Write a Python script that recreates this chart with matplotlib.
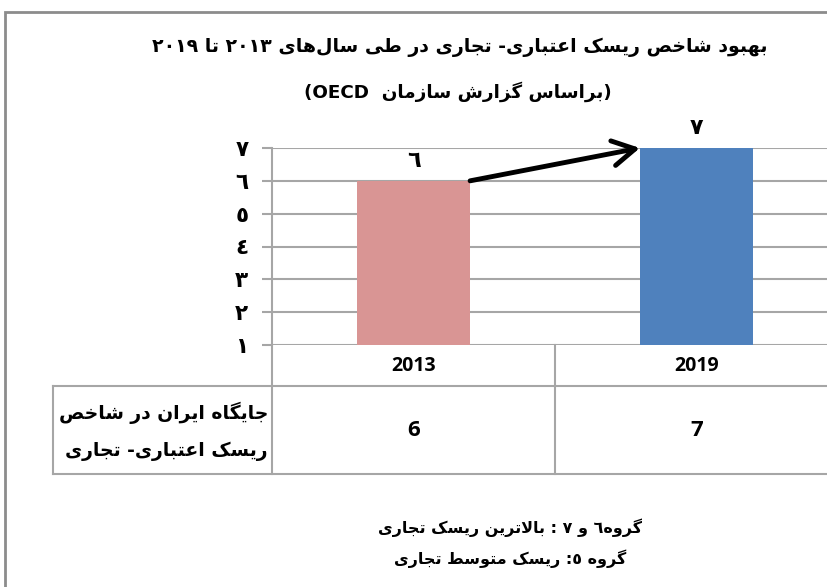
import re
import matplotlib
matplotlib.use("Agg")
import matplotlib.pyplot as plt
from matplotlib.lines import Line2D
from matplotlib.patches import Rectangle
from matplotlib.transforms import blended_transform_factory

# data
years = ["2013", "2019"]
ranks = [6, 7]
bar_colors = ["#D99594", "#4F81BD"]
y_ticks = [1, 2, 3, 4, 5, 6, 7]

title_1 = "بهبود شاخص ریسک اعتباری- تجاری در طی سال\u200cهای ۲۰۱۳ تا ۲۰۱۹"
title_2 = "(براساس گزارش سازمان  OECD)"
row_label = ["جایگاه ایران در شاخص", "ریسک اعتباری- تجاری"]
notes = ["گروه٦ و ٧ : بالاترین ریسک تجاری", "گروه ٥: ریسک متوسط تجاری"]

# matplotlib has no arabic shaping, so pick presentation forms by hand
# letter -> (first form codepoint, number of forms); order is isol, fina, init, medi
JOIN = {
    "ا": (0xFE8D, 2), "آ": (0xFE81, 2), "أ": (0xFE83, 2), "ب": (0xFE8F, 4),
    "ت": (0xFE95, 4), "ث": (0xFE99, 4), "ج": (0xFE9D, 4), "ح": (0xFEA1, 4),
    "خ": (0xFEA5, 4), "د": (0xFEA9, 2), "ذ": (0xFEAB, 2), "ر": (0xFEAD, 2),
    "ز": (0xFEAF, 2), "س": (0xFEB1, 4), "ش": (0xFEB5, 4), "ص": (0xFEB9, 4),
    "ض": (0xFEBD, 4), "ط": (0xFEC1, 4), "ظ": (0xFEC5, 4), "ع": (0xFEC9, 4),
    "غ": (0xFECD, 4), "ف": (0xFED1, 4), "ق": (0xFED5, 4), "ل": (0xFEDD, 4),
    "م": (0xFEE1, 4), "ن": (0xFEE5, 4), "ه": (0xFEE9, 4), "و": (0xFEED, 2),
    "پ": (0xFB56, 4), "چ": (0xFB7A, 4), "ژ": (0xFB8A, 2), "ک": (0xFB8E, 4),
    "گ": (0xFB92, 4), "ی": (0xFBFC, 4),
}
LTR_RUN = re.compile(r"[0-9A-Za-z\u0660-\u0669\u06F0-\u06F9]+")
MIRROR = str.maketrans("()", ")(")


def dual(c):
    return c in JOIN and JOIN[c][1] == 4


def shape(s):
    out = []
    i = 0
    while i < len(s):
        c = s[i]
        if c not in JOIN:
            if c != "\u200c":
                out.append(c)
            i += 1
            continue
        prev_join = i > 0 and dual(s[i - 1])
        if c == "ل" and i + 1 < len(s) and s[i + 1] == "ا":
            out.append("\uFEFC" if prev_join else "\uFEFB")
            i += 2
            continue
        next_join = dual(c) and i + 1 < len(s) and s[i + 1] in JOIN
        if prev_join and next_join:
            f = 3
        elif prev_join:
            f = 1
        elif next_join:
            f = 2
        else:
            f = 0
        out.append(chr(JOIN[c][0] + f))
        i += 1
    return "".join(out)


def fa(s):
    """logical persian text -> shaped, visual order string"""
    s = shape(s)
    parts, pos = [], 0
    for m in LTR_RUN.finditer(s):
        parts.append((False, s[pos:m.start()]))
        parts.append((True, m.group()))
        pos = m.end()
    parts.append((False, s[pos:]))
    return "".join(t if ltr else t[::-1].translate(MIRROR) for ltr, t in reversed(parts))


def ar_digit(n):
    return "".join(chr(0x0660 + int(d)) for d in str(n))


W, H = 828, 587
grey = "#A6A6A6"


def fx(px):
    return px / W


def fy(py):
    return 1 - py / H


fig = plt.figure(figsize=(W / 100, H / 100), dpi=100)
fig.patch.set_facecolor("white")

# outer frame (cut off at right and bottom like the screenshot)
fig.add_artist(Rectangle((fx(5), -0.1), 1.2, fy(12) + 0.1, fill=False,
                         edgecolor="#8C8C8C", lw=2, transform=fig.transFigure))

fig.text(fx(460), fy(47), fa(title_1), ha="center", va="center",
         fontsize=13.6, fontweight="bold", family="DejaVu Sans")
fig.text(fx(458), fy(92), fa(title_2), ha="center", va="center",
         fontsize=13.2, fontweight="bold", family="DejaVu Sans")

ax = fig.add_axes([fx(272), fy(345), fx(838) - fx(272), fy(148) - fy(345)])
x = list(range(len(years)))
bw = 0.4
ax.bar(x, ranks, width=bw, color=bar_colors, zorder=2)
ax.set_xlim(-0.5, len(years) - 0.5)
ax.set_ylim(y_ticks[0], y_ticks[-1])
ax.set_xticks([])
ax.set_yticks(y_ticks)
ax.set_yticklabels([ar_digit(t) for t in y_ticks], fontsize=15.5,
                   fontweight="bold", family="DejaVu Sans")
ax.yaxis.grid(True, color=grey, lw=1.5)
ax.set_axisbelow(True)
ax.tick_params(axis="y", length=7, width=1.5, color=grey, pad=10)
for s in ["top", "right", "bottom"]:
    ax.spines[s].set_visible(False)
ax.spines["left"].set_color(grey)
ax.spines["left"].set_linewidth(1.5)

for xi, v in zip(x, ranks):
    ax.annotate(ar_digit(v), (xi, v), xytext=(0, 7), textcoords="offset points",
                ha="center", va="bottom", fontsize=16, fontweight="bold",
                family="DejaVu Sans")

# arrow from top corner of first bar to top corner of second bar
ax.annotate("", xy=(x[1] - bw / 2, ranks[1]), xytext=(x[0] + bw / 2, ranks[0]),
            arrowprops=dict(arrowstyle="->,head_length=0.8,head_width=0.45",
                            lw=3.5, color="black", shrinkA=0, shrinkB=0,
                            mutation_scale=20),
            annotation_clip=False, zorder=5)

# data table under the chart
lines = [
    ((272, 272), (345, 474)),
    ((555, 555), (345, 474)),
    ((53, 53), (386, 474)),
    ((53, 830), (386, 386)),
    ((53, 830), (474, 474)),
]
for (x0, x1), (y0, y1) in lines:
    fig.add_artist(Line2D([fx(x0), fx(x1)], [fy(y0), fy(y1)], color=grey,
                          lw=1.5, transform=fig.transFigure))

tr = blended_transform_factory(ax.transData, fig.transFigure)
for xi, yr, v in zip(x, years, ranks):
    ax.text(xi, fy(366), yr, transform=tr, ha="center", va="center",
            fontsize=14, fontweight="bold", family="Open Sans")
    ax.text(xi, fy(430), str(v), transform=tr, ha="center", va="center",
            fontsize=16, fontweight="bold", family="Open Sans")

fig.text(fx(268), fy(413), fa(row_label[0]), ha="right", va="center",
         fontsize=13.5, fontweight="bold", family="DejaVu Sans")
fig.text(fx(268), fy(451), fa(row_label[1]), ha="right", va="center",
         fontsize=13.5, fontweight="bold", family="DejaVu Sans")

fig.text(fx(510), fy(528), fa(notes[0]), ha="center", va="center",
         fontsize=11.5, fontweight="bold", family="DejaVu Sans")
fig.text(fx(510), fy(559), fa(notes[1]), ha="center", va="center",
         fontsize=11.5, fontweight="bold", family="DejaVu Sans")

fig.savefig("out.png", dpi=100)
